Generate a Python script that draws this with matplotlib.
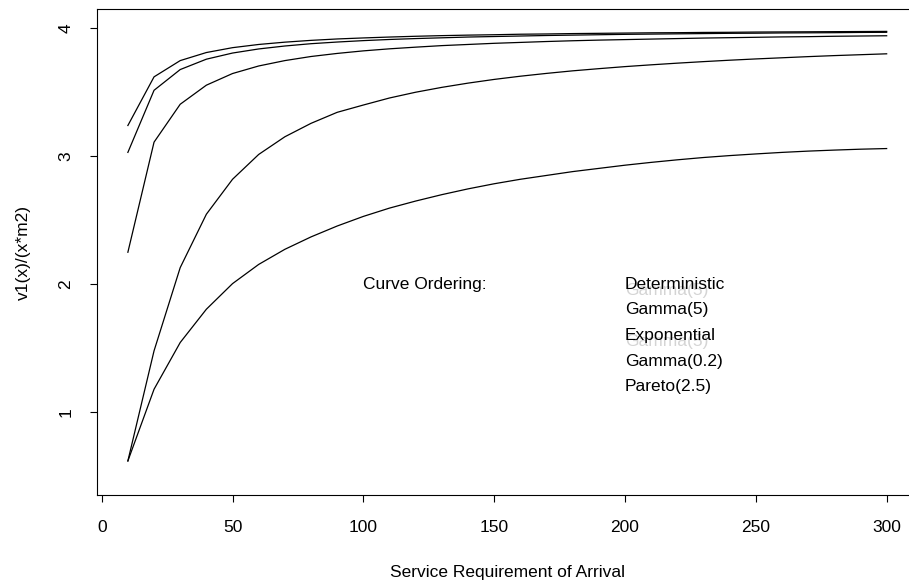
import matplotlib
matplotlib.use('Agg')
import matplotlib.pyplot as plt

plt.rcParams['font.family'] = ['Liberation Sans', 'DejaVu Sans']

# service requirement values
x = [10, 20, 30, 40, 50, 60, 70, 80, 90, 100,
     110, 120, 130, 140, 150, 160, 170, 180, 190, 200,
     210, 220, 230, 240, 250, 260, 270, 280, 290, 300]

deterministic = [3.24, 3.62, 3.747, 3.81, 3.848, 3.873, 3.891, 3.905, 3.916, 3.924,
                 3.931, 3.937, 3.942, 3.946, 3.949, 3.953, 3.955, 3.958, 3.96, 3.962,
                 3.964, 3.965, 3.967, 3.968, 3.97, 3.971, 3.972, 3.973, 3.974, 3.975]
gamma5 = [3.03, 3.515, 3.677, 3.758, 3.806, 3.838, 3.861, 3.879, 3.892, 3.903,
          3.912, 3.919, 3.925, 3.931, 3.935, 3.939, 3.943, 3.946, 3.949, 3.952,
          3.954, 3.956, 3.958, 3.96, 3.961, 3.963, 3.964, 3.965, 3.967, 3.968]
exponential = [2.25, 3.11, 3.406, 3.555, 3.646, 3.705, 3.747, 3.779, 3.803, 3.823,
               3.839, 3.852, 3.864, 3.873, 3.882, 3.889, 3.896, 3.902, 3.907, 3.911,
               3.915, 3.919, 3.923, 3.926, 3.929, 3.932, 3.934, 3.937, 3.939, 3.941]
gamma02 = [0.62, 1.48, 2.13, 2.547, 2.82, 3.014, 3.152, 3.257, 3.343, 3.40,
           3.455, 3.50, 3.538, 3.571, 3.60, 3.625, 3.647, 3.667, 3.684, 3.70,
           3.714, 3.727, 3.739, 3.75, 3.76, 3.769, 3.778, 3.786, 3.793, 3.80]
pareto = [0.62, 1.18, 1.545, 1.805, 2.005, 2.155, 2.273, 2.37, 2.455, 2.53,
          2.595, 2.65, 2.70, 2.745, 2.785, 2.82, 2.85, 2.88, 2.905, 2.93,
          2.952, 2.972, 2.99, 3.005, 3.018, 3.03, 3.04, 3.048, 3.055, 3.06]

labels = ['Deterministic', 'Gamma(5)', 'Exponential', 'Gamma(0.2)', 'Pareto(2.5)']
label_y = [2.0, 1.8, 1.6, 1.4, 1.2]
ghost_y = [1.95, 1.55]

fig = plt.figure(figsize=(9.09, 5.8), dpi=100)
ax = fig.add_axes([97 / 909, 85 / 580, (917 - 97) / 909, (495 - 9) / 580])

for s in [deterministic, gamma5, exponential, gamma02, pareto]:
    ax.plot(x, s, color='black', lw=0.9)

ax.set_xlim(-1.8, 311.6)
ax.set_ylim(0.354, 4.15)
ax.set_xticks([0, 50, 100, 150, 200, 250, 300])
ax.set_yticks([1, 2, 3, 4])
ax.tick_params(direction='out', length=5, width=0.8, labelsize=12.5)
ax.tick_params(axis='x', pad=13)
ax.tick_params(axis='y', pad=12)
plt.setp(ax.get_yticklabels(), rotation=90, va='center')
for sp in ax.spines.values():
    sp.set_linewidth(0.8)

ax.set_xlabel('Service Requirement of Arrival', fontsize=12.5)
ax.xaxis.set_label_coords(0.5, -0.145)
ax.set_ylabel('v1(x)/(x*m2)', fontsize=12.5)
ax.yaxis.set_label_coords(-0.08, 0.5)

ax.text(100, 2.0, 'Curve Ordering:', fontsize=12.5, ha='left', va='center')
for gy in ghost_y:
    ax.text(200, gy, 'Gamma(5)', fontsize=12.5, ha='left', va='center',
            color='#d4d4d4', zorder=1)
for lab, ly in zip(labels, label_y):
    ax.text(200, ly, lab, fontsize=12.5, ha='left', va='center', zorder=3)

fig.savefig('out.png', dpi=100)
